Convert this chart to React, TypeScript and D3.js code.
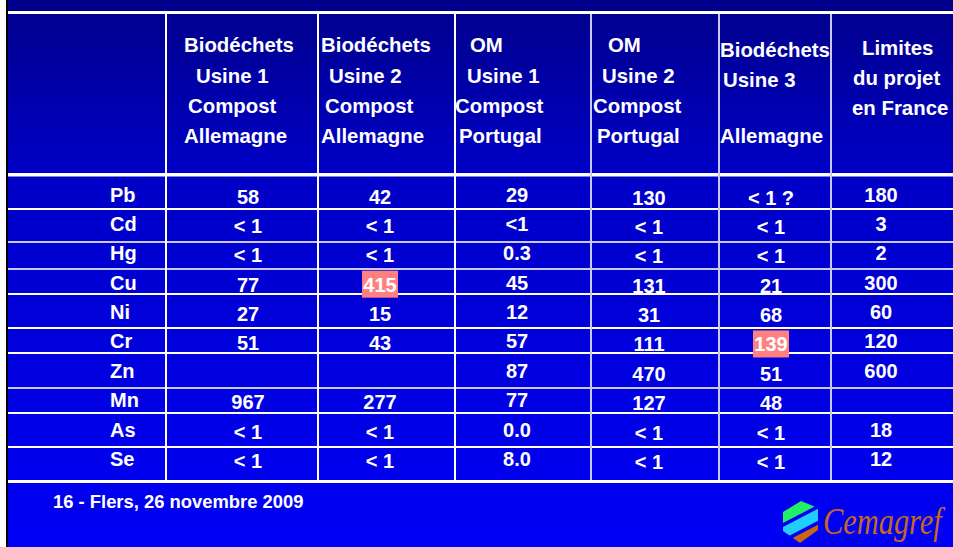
import React from "react";
import * as d3 from "d3";

// table content
const elements = ["Pb", "Cd", "Hg", "Cu", "Ni", "Cr", "Zn", "Mn", "As", "Se"];
const headers = [
  ["Biodéchets", "Usine 1", "Compost", "Allemagne"],
  ["Biodéchets", "Usine 2", "Compost", "Allemagne"],
  ["OM", "Usine 1", "Compost", "Portugal"],
  ["OM", "Usine 2", "Compost", "Portugal"],
  ["Biodéchets", "Usine 3", "", "Allemagne"],
  ["Limites", "du projet", "en France"],
];
const bioUsine1 = ["58", "< 1", "< 1", "77", "27", "51", "", "967", "< 1", "< 1"];
const bioUsine2 = ["42", "< 1", "< 1", "415", "15", "43", "", "277", "< 1", "< 1"];
const omUsine1 = ["29", "<1", "0.3", "45", "12", "57", "87", "77", "0.0", "8.0"];
const omUsine2 = ["130", "< 1", "< 1", "131", "31", "111", "470", "127", "< 1", "< 1"];
const bioUsine3 = ["< 1 ?", "< 1", "< 1", "21", "68", "139", "51", "48", "< 1", "< 1"];
const limitesFrance = ["180", "3", "2", "300", "60", "120", "600", "", "18", "12"];
const columns = [bioUsine1, bioUsine2, omUsine1, omUsine2, bioUsine3, limitesFrance];
// cells above the french limit, shown in red
const highlighted = [
  { col: 1, row: 3 },
  { col: 4, row: 5 },
];
const footer = "16 - Flers, 26 novembre 2009";

// layout
const W = 953;
const H = 547;
const colEdges = [166, 318, 455, 591, 719, 831];
const rowEdges = [209, 242, 269, 294, 328, 353, 388, 413, 447];
const softRows = [1, 2, 6];
const valueX = [248, 380, 517, 649, 771, 881];
const valueDy = [2, 2, 0, 3, 3, 0];
const headerX = [
  [184, 196, 188, 184],
  [321, 329, 325, 321],
  [470, 467, 455, 459],
  [608, 602, 593, 597],
  [720, 723, 0, 720],
  [862, 853, 852],
];
const headerY = [
  [52, 82.5, 112.5, 142.5],
  [52, 82.5, 112.5, 142.5],
  [52, 82.5, 112.5, 142.5],
  [52, 82.5, 112.5, 142.5],
  [57, 87, 117, 143],
  [55, 85, 115],
];

const font = "'Liberation Sans', Arial, sans-serif";

const App = () => {
  const y = d3.scaleLinear().domain([0, elements.length - 1]).range([201.5, 466]);
  // diagonal stripes of the logo: y = c - 0.52 * (x - 783)
  const band = (c1: number, c2: number) => {
    const line = d3.line();
    const f = (c: number, x: number) => c - 0.52 * (x - 783);
    return (
      line([
        [778, f(c1, 778)],
        [822, f(c1, 822)],
        [822, f(c2, 822)],
        [778, f(c2, 778)],
      ]) + "Z"
    );
  };

  return (
    <svg
      width={W}
      height={H}
      style={{ position: "absolute", left: 0, top: 0, display: "block" }}
      fontFamily={font}
      fontWeight="bold"
    >
      <defs>
        <linearGradient id="bg" x1="0" y1="0" x2="0" y2="1">
          <stop offset="0" stopColor="#00008a" />
          <stop offset="0.32" stopColor="#0000c6" />
          <stop offset="0.85" stopColor="#0000ec" />
          <stop offset="1" stopColor="#0000f6" />
        </linearGradient>
        <clipPath id="hex">
          <path d="M783,512 L801,501 L818,508 L818,530 L800,543 L783,531 Z" />
        </clipPath>
      </defs>
      <rect width={W} height={H} fill="#fff" />
      <rect x={8} width={W - 8} height={H} fill="url(#bg)" />
      <rect x={6} width={2} height={H} fill="#000" />

      {/* frame lines */}
      <rect x={8} y={11} width={W} height={3} fill="#fff" />
      <rect x={8} y={173} width={W} height={3.5} fill="#fff" />
      <rect x={8} y={480} width={W} height={3} fill="#fff" />
      {rowEdges.map((r, i) => (
        <rect
          key={i}
          x={8}
          y={r - 1}
          width={W}
          height={2}
          fill={softRows.includes(i) ? "#c8c8f0" : "#fff"}
        />
      ))}
      {colEdges.map((c, i) => (
        <rect
          key={i}
          x={c - 1}
          y={14}
          width={2}
          height={466}
          fill={i < 3 ? "#fff" : "#c8c8f0"}
        />
      ))}

      {/* header */}
      {headers.map((lines, c) =>
        lines.map((t, l) => (
          <text key={c + "-" + l} x={headerX[c][l]} y={headerY[c][l]} fill="#fff" fontSize={20.4}>
            {t}
          </text>
        ))
      )}

      {/* highlights */}
      {highlighted.map((h, i) => (
        <rect
          key={i}
          x={valueX[h.col] - 18}
          y={y(h.row) + valueDy[h.col] - 21}
          width={36}
          height={27}
          fill="#ff8080"
        />
      ))}

      {/* rows */}
      {elements.map((e, r) => (
        <text key={e} x={110} y={y(r)} fill="#fff" fontSize={20}>
          {e}
        </text>
      ))}
      {columns.map((vals, c) =>
        vals.map((v, r) => (
          <text
            key={c + "-" + r}
            x={valueX[c]}
            y={y(r) + valueDy[c]}
            textAnchor="middle"
            fill="#fff"
            fontSize={20}
          >
            {v}
          </text>
        ))
      )}

      {/* footer */}
      <text x={53} y={508} fill="#fff" fontSize={18.4}>
        {footer}
      </text>

      {/* logo */}
      <g clipPath="url(#hex)">
        <path d={band(495, 523)} fill="#22ee66" />
        <path d={band(527, 539)} fill="#22ccff" />
        <path d={band(543, 570)} fill="#cc6610" />
      </g>
      <text
        transform="translate(823,534) scale(0.8,1)"
        fontFamily="'Liberation Serif', 'DejaVu Serif', serif"
        fontStyle="italic"
        fontWeight="normal"
        fontSize={38}
        fill="#c8661e"
      >
        Cemagref
      </text>
    </svg>
  );
};

export default App;
